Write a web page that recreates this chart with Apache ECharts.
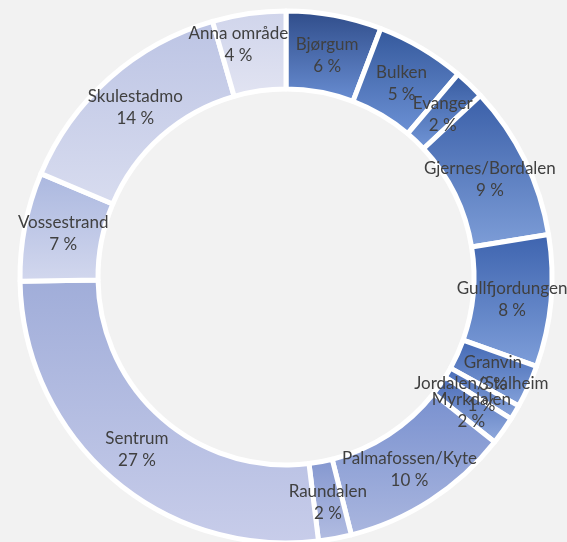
<!DOCTYPE html>
<html>
<head>
<meta charset="utf-8">
<script src="https://cdn.jsdelivr.net/npm/echarts@6/dist/echarts.min.js"></script>
<style>
  html, body { margin: 0; padding: 0; background: #f2f2f2; }
  #chart { width: 567px; height: 542px; }
</style>
</head>
<body>
<div id="chart"></div>
<script>
const categories = ["Bjørgum", "Bulken", "Evanger", "Gjernes/Bordalen", "Gullfjordungen", "Granvin", "Jordalen/Stalheim", "Myrkdalen", "Palmafossen/Kyte", "Raundalen", "Sentrum", "Vossestrand", "Skulestadmo", "Anna område"];
const shares = [5.8, 5.4, 1.85, 9.4, 8.0, 2.6, 0.9, 1.7, 10.4, 2.0, 26.7, 6.6, 14.2, 4.45];
const topColors = ["#2e4b88", "#33579a", "#35599e", "#3a5fa8", "#3d63ae", "#4167b3", "#4569b6", "#4a6cb8", "#7890cf", "#8396cf", "#a0add9", "#aab7df", "#bcc4e4", "#cfd4eb"];
const bottomColors = ["#6a8fd4", "#6d92d6", "#7397d8", "#7e9ed8", "#7f9fda", "#86a3db", "#8ea9dd", "#93acde", "#abb7df", "#b4bee2", "#c8cdea", "#d3d8ee", "#d8dcef", "#e2e4f2"];
// label nudges (px) where the original moved a label away from the sector middle
const labelNudgeX = [0, 0, 0, 0, 0, 0, 0, 0, 0, 0, 0, 0, 0, -16];
const labelNudgeY = [2, 2, 2, 2, 2, 3, 2, 2, 2, 2, 1, 0, 0, -8];

const total = shares.reduce((a, b) => a + b, 0);
const chart = echarts.init(document.getElementById('chart'), null, { renderer: 'canvas' });
const data = categories.map((name, i) => ({
  name: name,
  value: shares[i],
  itemStyle: {
    color: new echarts.graphic.LinearGradient(0, 0, 0, 1, [
      { offset: 0, color: topColors[i] },
      { offset: 1, color: bottomColors[i] }
    ])
  }
}));

chart.setOption({
  backgroundColor: '#f2f2f2',
  animation: false,
  series: [{
    type: 'pie',
    center: [286, 277],
    radius: [188, 266],
    startAngle: 90,
    clockwise: true,
    avoidLabelOverlap: false,
    emphasis: { disabled: true },
    itemStyle: { borderColor: '#ffffff', borderWidth: 5 },
    label: { show: false },
    labelLine: { show: false },
    data: data
  }]
});

// Place labels at the middle of each sector, using the pie layout computed by ECharts
const seriesData = chart.getModel().getSeriesByIndex(0).getData();
const labels = categories.map((name, i) => {
  const l = seriesData.getItemLayout(i);
  const mid = (l.startAngle + l.endAngle) / 2;
  const rm = (l.r + l.r0) / 2;
  return {
    type: 'text',
    z: 100,
    x: l.cx + rm * Math.cos(mid) + labelNudgeX[i],
    y: l.cy + rm * Math.sin(mid) + labelNudgeY[i],
    silent: true,
    style: {
      text: name + '\n' + Math.round(shares[i] / total * 100) + ' %',
      fill: '#404040',
      fontFamily: 'Lato',
      fontSize: 17,
      lineHeight: 22,
      align: 'center',
      verticalAlign: 'middle'
    }
  };
});
chart.setOption({ graphic: labels });
</script>
</body>
</html>
